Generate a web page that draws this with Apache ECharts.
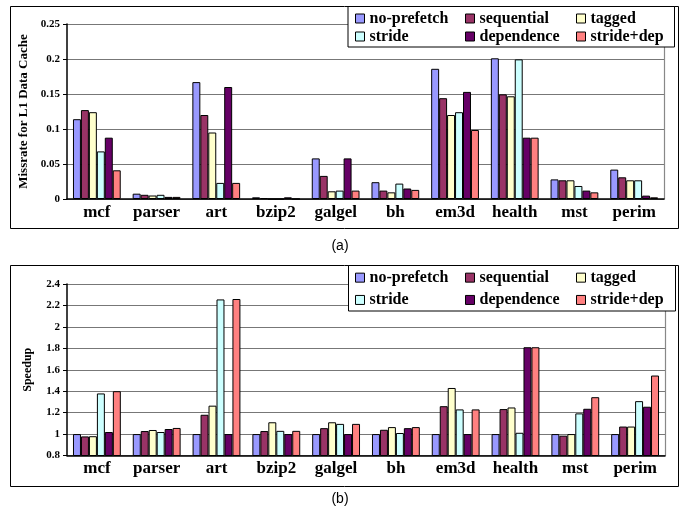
<!DOCTYPE html>
<html>
<head>
<meta charset="utf-8">
<script src="https://cdn.jsdelivr.net/npm/echarts@6/dist/echarts.min.js"></script>
<style>
  html, body { margin: 0; padding: 0; background: #fff; }
  #chart { width: 684px; height: 508px; }
</style>
</head>
<body>
<div id="chart"></div>
<script>
// Benchmarks and prefetching schemes
const categories = ['mcf', 'parser', 'art', 'bzip2', 'galgel', 'bh', 'em3d', 'health', 'mst', 'perim'];
const schemes = ['no-prefetch', 'sequential', 'tagged', 'stride', 'dependence', 'stride+dep'];
const schemeColors = ['#9999FF', '#993366', '#FFFFCC', '#CCFFFF', '#660066', '#FF8080'];

// (a) L1 data cache miss rate
const missNoPrefetch = [0.114, 0.0076, 0.167, 0.0024, 0.058, 0.024, 0.186, 0.201, 0.028, 0.042];
const missSequential = [0.127, 0.006, 0.120, 0.0014, 0.033, 0.012, 0.144, 0.1495, 0.0267, 0.031];
const missTagged     = [0.124, 0.005, 0.095, 0, 0.011, 0.0095, 0.120, 0.1467, 0.0267, 0.0267];
const missStride     = [0.068, 0.006, 0.023, 0, 0.012, 0.022, 0.124, 0.1995, 0.0186, 0.0267];
const missDependence = [0.0876, 0.003, 0.160, 0.0024, 0.058, 0.015, 0.153, 0.0876, 0.012, 0.0048];
const missStrideDep  = [0.041, 0.003, 0.023, 0, 0.012, 0.013, 0.0986, 0.0876, 0.0095, 0.0024];

// (b) speedup over no prefetching
const spNoPrefetch = [1, 1, 1, 1, 1, 1, 1, 1, 1, 1];
const spSequential = [0.978, 1.028, 1.18, 1.028, 1.055, 1.04, 1.26, 1.233, 0.985, 1.07];
const spTagged     = [0.98, 1.038, 1.265, 1.11, 1.11, 1.065, 1.43, 1.248, 1.0, 1.07];
const spStride     = [1.379, 1.019, 2.256, 1.03, 1.095, 1.01, 1.23, 1.012, 1.193, 1.307];
const spDependence = [1.019, 1.047, 1.0, 1.0, 1.0, 1.055, 1.0, 1.81, 1.236, 1.255];
const spStrideDep  = [1.4, 1.057, 2.26, 1.03, 1.095, 1.065, 1.23, 1.81, 1.344, 1.546];

// Axis ranges
const missMin = 0, missMax = 0.25, missStep = 0.05;
const spMin = 0.8, spMax = 2.4, spStep = 0.2;

const missData = [missNoPrefetch, missSequential, missTagged, missStride, missDependence, missStrideDep];
const spData = [spNoPrefetch, spSequential, spTagged, spStride, spDependence, spStrideDep];

const serif = 'Liberation Serif';

function barSeries(dataSets, axisIndex) {
  return schemes.map((name, i) => ({
    name: name,
    type: 'bar',
    xAxisIndex: axisIndex,
    yAxisIndex: axisIndex * 2,
    data: dataSets[i],
    barGap: '0%',
    barCategoryGap: '20%',
    itemStyle: { color: schemeColors[i], borderColor: '#000', borderWidth: 1 },
    emphasis: { disabled: true },
    animation: false,
    z: 3
  }));
}

function categoryAxis(gridIndex) {
  return {
    type: 'category',
    gridIndex: gridIndex,
    data: categories,
    axisLine: { lineStyle: { color: '#000', width: 1.5 } },
    axisTick: { show: false },
    axisLabel: { interval: 0, color: '#000', fontFamily: serif, fontWeight: 'bold', fontSize: 17, margin: 5 }
  };
}

function valueAxis(gridIndex, min, max, step, name, nameSize) {
  return {
    type: 'value',
    gridIndex: gridIndex,
    min: min, max: max, interval: step,
    name: name,
    nameLocation: 'middle',
    nameGap: 33,
    nameTextStyle: { color: '#000', fontFamily: serif, fontWeight: 'bold', fontSize: nameSize },
    axisLine: { show: true, lineStyle: { color: '#000', width: 1.5 } },
    axisTick: { show: true, length: 4, lineStyle: { color: '#000' } },
    axisLabel: { color: '#000', fontFamily: serif, fontWeight: 'bold', fontSize: 11, margin: 7 },
    splitLine: { show: true, lineStyle: { color: '#777', width: 1.2 } }
  };
}

function rightEdge(gridIndex, min, max) {
  return {
    type: 'value',
    gridIndex: gridIndex,
    position: 'right',
    min: min, max: max,
    axisLine: { show: true, lineStyle: { color: '#888', width: 1.2 } },
    axisTick: { show: false },
    axisLabel: { show: false },
    splitLine: { show: false }
  };
}

function legendColumn(names, left, top, lineH) {
  return {
    data: names,
    orient: 'vertical',
    left: left,
    top: top,
    padding: 0,
    itemGap: 0,
    itemWidth: 9,
    itemHeight: 9,
    icon: 'rect',
    selectedMode: false,
    itemStyle: { borderColor: '#000', borderWidth: 1 },
    textStyle: { color: '#000', fontFamily: serif, fontWeight: 'bold', fontSize: 16, lineHeight: lineH },
    z: 20
  };
}

const option = {
  backgroundColor: '#fff',
  animation: false,
  grid: [
    { left: 67, top: 24, width: 597, height: 175 },
    { left: 67, top: 284, width: 598, height: 171.5 }
  ],
  xAxis: [categoryAxis(0), categoryAxis(1)],
  yAxis: [
    valueAxis(0, missMin, missMax, missStep, 'Missrate for L1 Data Cache', 13),
    rightEdge(0, missMin, missMax),
    valueAxis(1, spMin, spMax, spStep, 'Speedup', 12),
    rightEdge(1, spMin, spMax)
  ],
  legend: [
    legendColumn(['no-prefetch', 'stride'], 355, 9.5, 18),
    legendColumn(['sequential', 'dependence'], 465, 9.5, 18),
    legendColumn(['tagged', 'stride+dep'], 576, 9.5, 18),
    legendColumn(['no-prefetch', 'stride'], 355, 266.5, 22.3),
    legendColumn(['sequential', 'dependence'], 465, 266.5, 22.3),
    legendColumn(['tagged', 'stride+dep'], 576, 266.5, 22.3)
  ],
  graphic: [
    // outer frames of the two panels
    { type: 'rect', z: 1, shape: { x: 10.5, y: 6.5, width: 668, height: 222 },
      style: { fill: 'none', stroke: '#000', lineWidth: 1 } },
    { type: 'rect', z: 1, shape: { x: 10.5, y: 265.5, width: 668, height: 221 },
      style: { fill: 'none', stroke: '#000', lineWidth: 1 } },
    // legend boxes
    { type: 'rect', z: 10, shape: { x: 348, y: 6.5, width: 326.5, height: 40.5 },
      style: { fill: '#fff', stroke: '#000', lineWidth: 1 } },
    { type: 'rect', z: 10, shape: { x: 348.5, y: 265.5, width: 327, height: 45.5 },
      style: { fill: '#fff', stroke: '#000', lineWidth: 1 } },
    // panel captions
    { type: 'text', z: 10, x: 340, y: 246,
      style: { text: '(a)', fill: '#000', font: '14px "Liberation Sans"', textAlign: 'center', textVerticalAlign: 'middle' } },
    { type: 'text', z: 10, x: 340, y: 499,
      style: { text: '(b)', fill: '#000', font: '14px "Liberation Sans"', textAlign: 'center', textVerticalAlign: 'middle' } }
  ],
  series: barSeries(missData, 0).concat(barSeries(spData, 1))
};

const chart = echarts.init(document.getElementById('chart'), null, { renderer: 'canvas' });
chart.setOption(option);
</script>
</body>
</html>
